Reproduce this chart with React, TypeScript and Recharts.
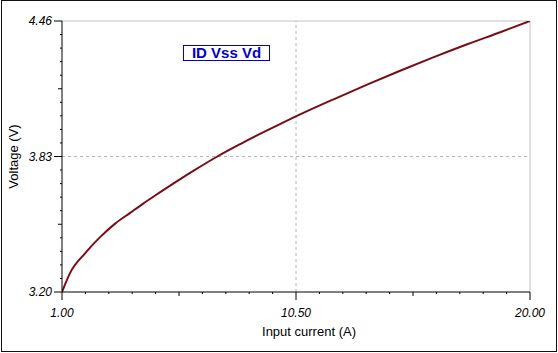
import React from 'react';
import { LineChart, Line, XAxis, YAxis, ReferenceLine } from 'recharts';

const currentA = [1, 1.325, 1.936, 2.546, 3.156, 3.767, 4.295, 4.987, 5.72, 6.33, 7.306, 8.242, 9.056, 9.747, 10.561, 12.026, 13.409, 14.752, 16.095, 17.478, 18.82, 20];
const voltageV = [3.2, 3.288, 3.38, 3.455, 3.518, 3.568, 3.611, 3.664, 3.719, 3.763, 3.83, 3.888, 3.936, 3.975, 4.02, 4.096, 4.165, 4.23, 4.292, 4.353, 4.409, 4.46];

const xTicks = [1, 1.95, 2.9, 3.85, 4.8, 5.75, 6.7, 7.65, 8.6, 9.55, 10.5, 11.45, 12.4, 13.35, 14.3, 15.25, 16.2, 17.15, 18.1, 19.05, 20];
const yTicks = [3.2, 3.263, 3.326, 3.389, 3.452, 3.515, 3.578, 3.641, 3.704, 3.767, 3.83, 3.893, 3.956, 4.019, 4.082, 4.145, 4.208, 4.271, 4.334, 4.397, 4.46];
const xTickLabels = ['1.00', '10.50', '20.00'];
const yTickLabels = ['3.20', '3.83', '4.46'];

const data = currentA.map((x, i) => ({ x, v: voltageV[i] }));

const FONT = '"Liberation Sans", Arial, sans-serif';

const tickLen = (i: number) => (i % 10 === 0 ? 8 : i % 5 === 0 ? 4 : 2);

const XTick = (props: any) => {
  const { x, y, payload } = props;
  const i = xTicks.indexOf(payload.value);
  const len = tickLen(i);
  return (
    <g>
      <line x1={x} x2={x} y1={y} y2={y + len} stroke="#000" strokeWidth={1} />
      {i % 10 === 0 && (
        <text x={x} y={y + 25} textAnchor="middle" fontSize={12} fontStyle="italic" fontFamily={FONT} fill="#000">
          {xTickLabels[i / 10]}
        </text>
      )}
    </g>
  );
};

const YTick = (props: any) => {
  const { x, y, payload } = props;
  const i = yTicks.indexOf(payload.value);
  const len = tickLen(i);
  return (
    <g>
      <line x1={x} x2={x - len} y1={y} y2={y} stroke="#000" strokeWidth={1} />
      {i % 10 === 0 && (
        <text x={x - 10} y={y} textAnchor="end" dominantBaseline="central" fontSize={12} fontStyle="italic" fontFamily={FONT} fill="#000">
          {yTickLabels[i / 10]}
        </text>
      )}
    </g>
  );
};

const XLabel = (props: any) => {
  const vb = props.viewBox || { x: 62, y: 292, width: 468 };
  return (
    <text x={vb.x + vb.width / 2 + 13} y={vb.y + 44} textAnchor="middle" fontSize={13} fontFamily={FONT} fill="#000">
      Input current (A)
    </text>
  );
};

const YLabel = (props: any) => {
  const vb = props.viewBox || { x: 22, y: 21, height: 271 };
  const cx = 13;
  const cy = vb.y + vb.height / 2;
  return (
    <text x={cx} y={cy} transform={`rotate(-90, ${cx}, ${cy})`} textAnchor="middle" dominantBaseline="central" fontSize={13} fontFamily={FONT} fill="#000">
      Voltage (V)
    </text>
  );
};

export default function App() {
  return (
    <div style={{ position: 'absolute', left: 0, top: 0, width: 558, height: 353, background: '#fff' }}>
      <div style={{ position: 'absolute', left: 1, top: 0, width: 554, height: 350, border: '1px solid #111' }} />
      <LineChart width={558} height={353} data={data} margin={{ top: 21, right: 28, bottom: 21, left: 22 }}>
        <ReferenceLine y={4.46} stroke="#c0c0c0" strokeWidth={1} ifOverflow="extendDomain" />
        <ReferenceLine x={20} stroke="#c0c0c0" strokeWidth={1} />
        <ReferenceLine y={3.83} stroke="#b4b4b4" strokeDasharray="3 3" strokeWidth={1} />
        <ReferenceLine x={10.5} stroke="#b4b4b4" strokeDasharray="3 3" strokeWidth={1} />
        <XAxis
          dataKey="x"
          type="number"
          domain={[1, 20]}
          ticks={xTicks}
          interval={0}
          tickSize={0}
          tickMargin={0}
          tickLine={false}
          tick={<XTick />}
          height={40}
          axisLine={{ stroke: '#000', strokeWidth: 1 }}
          allowDataOverflow
          label={(p: any) => <XLabel {...p} />}
        />
        <YAxis
          type="number"
          domain={[3.2, 4.46]}
          ticks={yTicks}
          interval={0}
          tickSize={0}
          tickMargin={0}
          tickLine={false}
          tick={<YTick />}
          width={40}
          axisLine={{ stroke: '#000', strokeWidth: 1 }}
          allowDataOverflow
          label={(p: any) => <YLabel {...p} />}
        />
        <Line type="monotone" dataKey="v" stroke="#7a0c16" strokeWidth={2} dot={false} isAnimationActive={false} />
      </LineChart>
      <div
        style={{
          position: 'absolute',
          left: 183,
          top: 45,
          width: 85,
          height: 14,
          border: '1px solid #0000cc',
          background: '#fff',
          color: '#0000cc',
          fontFamily: FONT,
          fontWeight: 'bold',
          fontSize: 15,
          lineHeight: '14px',
          textAlign: 'center',
          whiteSpace: 'nowrap',
        }}
      >
        ID Vss Vd
      </div>
    </div>
  );
}
